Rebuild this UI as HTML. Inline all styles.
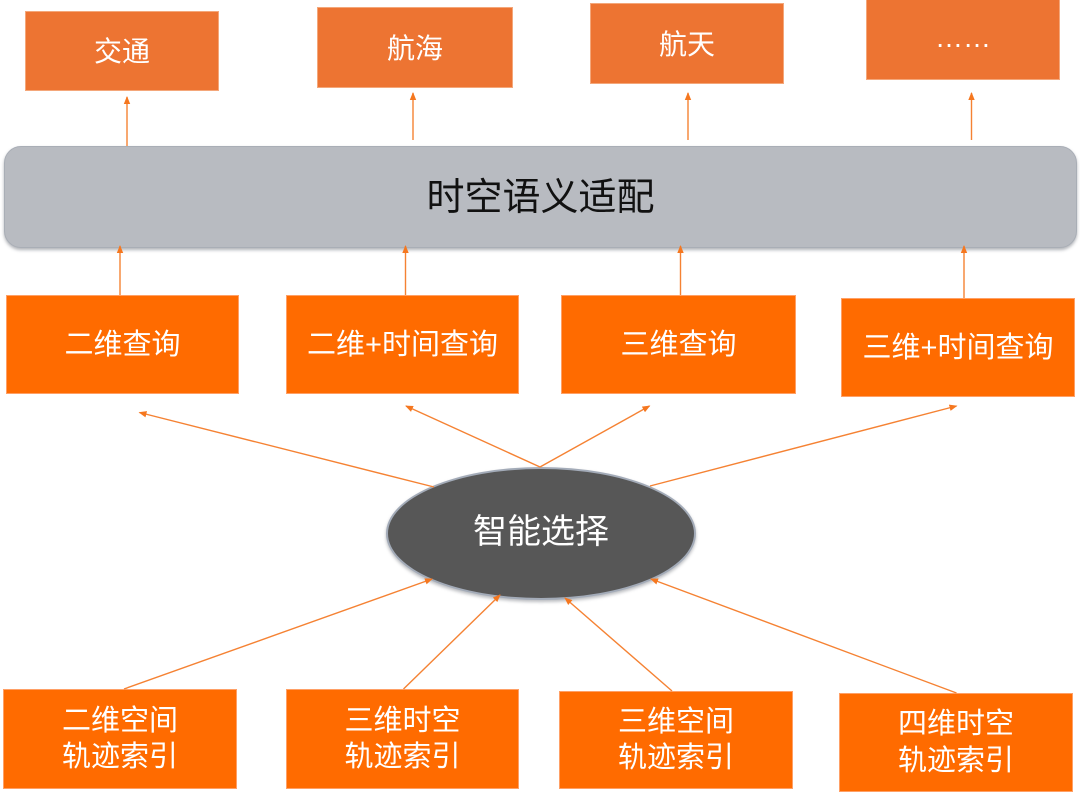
<!DOCTYPE html>
<html>
<head>
<meta charset="utf-8">
<style>
  html,body{margin:0;padding:0;background:#fff;}
  body{width:1080px;height:798px;position:relative;overflow:hidden;
    font-family:"Liberation Sans","Noto Sans CJK SC",sans-serif;}
  .b{position:absolute;box-sizing:border-box;display:flex;align-items:center;justify-content:center;
     color:#fff;text-align:center;}
  .top{background:#ED7432;border:1px solid #f4a77a;font-size:28px;}
  .mid{background:#FF6B00;border:1px solid #ffa066;font-size:29px;padding-bottom:6px;}
  .bot{background:#FF6B00;border:1px solid #ffa066;font-size:29px;line-height:36.5px;}
  .bar{position:absolute;left:4px;top:146px;width:1073px;height:102px;box-sizing:border-box;
       background:#B8BBC1;border:1px solid #a9aeb6;border-radius:17px;
       box-shadow:0 2px 3px rgba(80,85,95,0.45);padding-bottom:7px;
       display:flex;align-items:center;justify-content:center;font-size:38px;color:#111;}
  .ell{position:absolute;left:386px;top:467px;width:310px;height:133px;box-sizing:border-box;
       border-radius:50%;background:#575757;border:2px solid #a3abb8;
       box-shadow:0 2px 3px rgba(80,85,95,0.4);
       display:flex;align-items:center;justify-content:center;color:#fff;font-size:34px;padding-bottom:10px;}
  svg{position:absolute;left:0;top:0;}
</style>
</head>
<body>
  <div class="b top" style="left:25px;top:11px;width:194px;height:80px;padding-bottom:2px;">交通</div>
  <div class="b top" style="left:317px;top:7px;width:196px;height:81px;padding-bottom:2px;">航海</div>
  <div class="b top" style="left:590px;top:3px;width:194px;height:81px;padding-bottom:2px;">航天</div>
  <div class="b top" style="left:866px;top:-1px;width:194px;height:81px;padding-bottom:4px;">……</div>

  <div class="bar">时空语义适配</div>

  <div class="b mid" style="left:6px;top:295px;width:233px;height:99px;">二维查询</div>
  <div class="b mid" style="left:286px;top:295px;width:233px;height:99px;">二维+时间查询</div>
  <div class="b mid" style="left:561px;top:295px;width:235px;height:99px;">三维查询</div>
  <div class="b mid" style="left:841px;top:298px;width:234px;height:99px;">三维+时间查询</div>

  <div class="ell">智能选择</div>

  <div class="b bot" style="left:3px;top:689px;width:234px;height:100px;">二维空间<br>轨迹索引</div>
  <div class="b bot" style="left:286px;top:689px;width:233px;height:100px;">三维时空<br>轨迹索引</div>
  <div class="b bot" style="left:559px;top:691px;width:234px;height:98px;">三维空间<br>轨迹索引</div>
  <div class="b bot" style="left:839px;top:693px;width:234px;height:99px;">四维时空<br>轨迹索引</div>

  <svg width="1080" height="798" viewBox="0 0 1080 798">
    <defs>
      <marker id="ah" markerWidth="8" markerHeight="8" refX="7" refY="4" orient="auto" markerUnits="userSpaceOnUse">
        <path d="M0,0.8 L8,4 L0,7.2 Z" fill="#F5771F"/>
      </marker>
    </defs>
    <g stroke="#F58233" stroke-width="1.4" fill="none" marker-end="url(#ah)">
      <line x1="127" y1="146" x2="127" y2="97"/>
      <line x1="413" y1="140" x2="413" y2="93"/>
      <line x1="688" y1="140" x2="688" y2="93"/>
      <line x1="971.5" y1="140" x2="971.5" y2="93"/>
      <line x1="120" y1="295" x2="120" y2="246"/>
      <line x1="405.5" y1="295" x2="405.5" y2="246"/>
      <line x1="680.5" y1="295" x2="680.5" y2="246"/>
      <line x1="964" y1="298" x2="964" y2="246"/>
      <line x1="434" y1="487" x2="139.5" y2="412.5"/>
      <line x1="540" y1="467" x2="406" y2="406"/>
      <line x1="540" y1="467" x2="649.5" y2="406"/>
      <line x1="650" y1="486" x2="956.5" y2="406"/>
      <line x1="124" y1="689" x2="432" y2="579"/>
      <line x1="403.5" y1="689" x2="500" y2="595"/>
      <line x1="672" y1="691" x2="565" y2="598"/>
      <line x1="956.5" y1="693" x2="651" y2="579"/>
    </g>
  </svg>
</body>
</html>
